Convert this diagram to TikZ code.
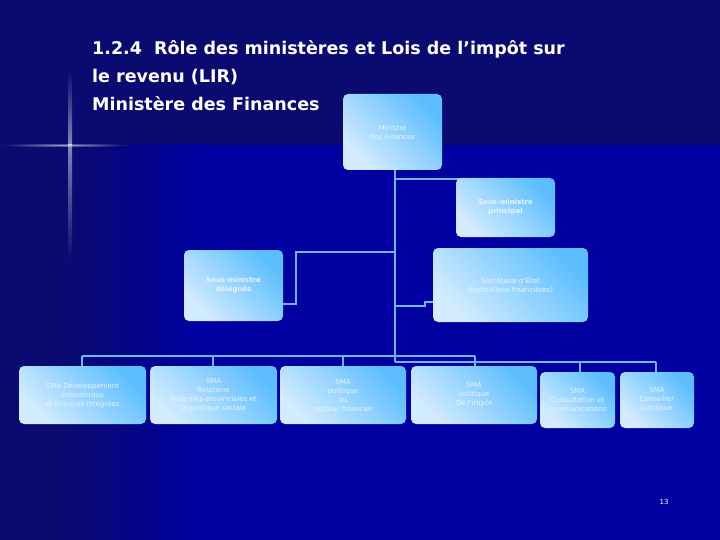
\documentclass[tikz,border=0pt]{standalone}
\usepackage{fontspec}
\setmainfont{DejaVu Sans}
\usetikzlibrary{shadings}
\definecolor{navy}{HTML}{0A0A70}
\definecolor{blu}{HTML}{0000A0}
\definecolor{boxl}{HTML}{D4ECFF}
\definecolor{boxd}{HTML}{5CBEFF}
\definecolor{ln}{HTML}{6CB8FF}
\definecolor{tx}{HTML}{EAF4FF}
\tikzset{
 bxshade/.style={rounded corners=5pt, left color=boxl, right color=boxd, shading angle=135},
 bxtext/.style={text=tx, align=center, font=\fontsize{7}{9}\selectfont, inner sep=0pt},
 cn/.style={draw=ln, line width=2.2pt}
}
\newcommand{\bxx}[6]{\shade[bxshade] (#2,#3) rectangle (#4,#5); \node[bxtext] (#1) at ({(#2+#4)/2},{(#3+#5)/2}) {#6};}
\begin{document}
\begin{tikzpicture}[x=1pt,y=-1pt]
\useasboundingbox (0,0) rectangle (720,540);
\fill[navy] (0,0) rectangle (720,540);
\fill[blu] (70,145) rectangle (720,540);
\shade[left color=navy, right color=blu] (70,145) rectangle (200,540);
\shade[inner color=white, outer color=navy, opacity=0.6] (0,143) rectangle (130,147);
\shade[top color=navy, bottom color=white, opacity=0.5] (68,70) rectangle (72,145);
\shade[top color=white, bottom color=navy, opacity=0.5] (68,145) rectangle (72,260);
\node[text=white, font=\bfseries\fontsize{17.5}{28}\selectfont, anchor=north west, align=left, inner sep=0pt] (title) at (92,40)
 {1.2.4\ \ Rôle des ministères et Lois de l'impôt sur\\le revenu (LIR)\\Ministère des Finances};
\draw[cn] (395,170) -- (395,362);
\draw[cn] (395,179) -- (507,179) -- (507,185);
\draw[cn] (395,252) -- (296,252) -- (296,304) -- (283,304);
\draw[cn] (395,306) -- (425,306) -- (425,302) -- (433,302);
\draw[cn] (82,356) -- (475,356);
\draw[cn] (395,362) -- (656,362);
\foreach \x in {82,213,343,475} \draw[cn] (\x,356) -- (\x,370);
\foreach \x in {580,656} \draw[cn] (\x,362) -- (\x,375);
\bxx{min}{343}{94}{442}{170}{Ministre\\des Finances}
\bxx{smp}{456}{178}{555}{237}{\bfseries Sous-ministre\\\bfseries principal}
\bxx{smd}{184}{250}{283}{321}{\bfseries Sous-ministre\\\bfseries délégués}
\bxx{sec}{433}{248}{588}{322}{Secrétaire d'État\\(Institutions financières)}
\bxx{b1}{19}{366}{146}{424}{SMA Développement\\économique\\et finances intégrées}
\bxx{b2}{150}{366}{277}{424}{SMA\\Relations\\fédérales-provinciales et\\la politique sociale}
\bxx{b3}{280}{366}{406}{424}{SMA\\politique\\du\\secteur financier}
\bxx{b4}{411}{366}{537}{424}{SMA\\politique\\De l'impôt}
\bxx{b5}{540}{372}{615}{428}{SMA\\Consultation et\\communications}
\bxx{b6}{620}{372}{694}{428}{SMA\\Conseiller\\juridique}
\node[text=white, font=\fontsize{7}{8}\selectfont] (pg) at (664,502) {13};
\end{tikzpicture}
\end{document}
